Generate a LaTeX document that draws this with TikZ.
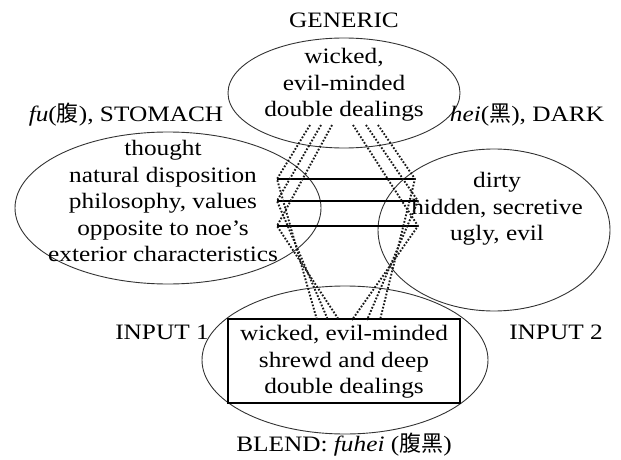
\documentclass[tikz,border=0pt]{standalone}
\usepackage{fontspec}
\setmainfont{Liberation Serif}[FakeStretch=1.15]
\newfontfamily\cjk{Noto Sans CJK SC}
\usetikzlibrary{shapes.geometric}
\begin{document}
\begin{tikzpicture}[x=1pt,y=-1pt,
  space/.style={draw=black!80, line width=0.9pt, ellipse, inner sep=0pt},
  txt/.style={align=center, font=\fontsize{22}{26.5}\selectfont, inner sep=0pt},
  lbl/.style={font=\fontsize{22}{26.5}\selectfont, inner sep=0pt},
  link/.style={line width=1.1pt},
  proj/.style={line width=1.9pt, dash pattern=on 1.7pt off 1.7pt, black!90}]
\useasboundingbox (0,0) rectangle (621,460);

% mental spaces
\node[space, minimum width=232, minimum height=110] (gen) at (344,93) {};
\node[space, minimum width=306, minimum height=152] (in1) at (168,208) {};
\node[space, minimum width=232, minimum height=162] (in2) at (494,230) {};
\node[space, minimum width=286, minimum height=148] (bl) at (345,360) {};
\node[draw, line width=1.3pt, minimum width=232, minimum height=84, inner sep=0pt] (box) at (344,361) {};

% contents
\node[txt] (gtxt) at (344,85) {wicked,\\evil-minded\\double dealings};
\node[txt] (itxt1) at (163,201) {thought\\natural disposition\\philosophy, values\\opposite to noe’s\\exterior characteristics};
\node[txt] (itxt2) at (497,209) {dirty\\hidden, secretive\\ugly, evil};
\node[txt] (btxt) at (344,362) {wicked, evil-minded\\shrewd and deep\\double dealings};

% space labels
\node[lbl] (lgen) at (344,20) {GENERIC};
\node[lbl] (lin1) at (126,115) {\textit{fu}({\cjk 腹}), STOMACH};
\node[lbl] (lin2) at (527,115) {\textit{hei}({\cjk 黑}), DARK};
\node[lbl] (lsp1) at (162,332) {INPUT 1};
\node[lbl] (lsp2) at (556,332) {INPUT 2};
\node[lbl] (lbl) at (344,445) {BLEND: \textit{fuhei} ({\cjk 腹黑})};

% cross-space mapping end points
\coordinate (a1) at (277,179); \coordinate (b1) at (415,179);
\coordinate (a2) at (277,201); \coordinate (b2) at (418,201);
\coordinate (a3) at (277,226); \coordinate (b3) at (418,226);

% generic-space end points
\coordinate (g1) at (310,125); \coordinate (g2) at (321,125); \coordinate (g3) at (332,125);
\coordinate (h1) at (378,125); \coordinate (h2) at (366,125); \coordinate (h3) at (353,125);

% blend end points
\coordinate (c1) at (317,320); \coordinate (c2) at (328,320); \coordinate (c3) at (339,320);
\coordinate (d1) at (380,320); \coordinate (d2) at (367,320); \coordinate (d3) at (352,320);

% cross-space counterpart links
\draw[link] (a1) -- (b1);
\draw[link] (a2) -- (b2);
\draw[link] (a3) -- (b3);

% projections
\foreach \i in {1,2,3} {
  \draw[proj] (g\i) -- (a\i) -- (c\i);
  \draw[proj] (h\i) -- (b\i) -- (d\i);
}
\end{tikzpicture}
\end{document}
